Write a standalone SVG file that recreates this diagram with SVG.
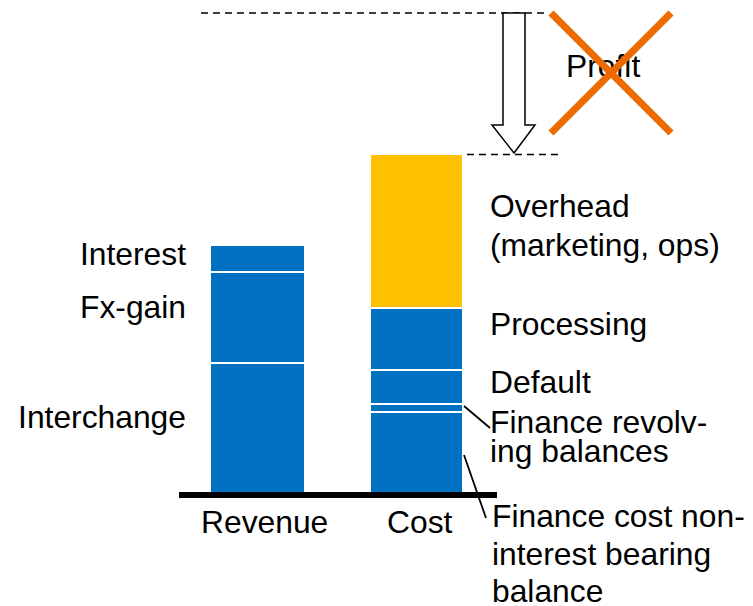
<svg xmlns="http://www.w3.org/2000/svg" width="753" height="606" viewBox="0 0 753 606">
<style>
text{font-family:"Liberation Sans",Arial,sans-serif;font-size:31.8px;fill:#000}
.blue{fill:#0070C0}
.yel{fill:#FFC000}
.dash{stroke:#000;stroke-width:1.5;stroke-dasharray:7 5;fill:none}
.lead{stroke:#000;stroke-width:1.8;fill:none}
</style>
<rect width="753" height="606" fill="#fff"/>
<g id="revenue-bar">
<rect class="blue" x="211" y="246" width="93" height="25"/>
<rect class="blue" x="211" y="273" width="93" height="89"/>
<rect class="blue" x="211" y="364" width="93" height="128"/>
</g>
<g id="cost-bar">
<rect class="yel" x="371" y="155" width="91" height="152"/>
<rect class="blue" x="371" y="309" width="91" height="60"/>
<rect class="blue" x="371" y="371" width="91" height="32"/>
<rect class="blue" x="371" y="405" width="91" height="6"/>
<rect class="blue" x="371" y="413" width="91" height="79"/>
</g>
<g id="axis">
<line x1="179" y1="495" x2="497" y2="495" stroke="#000" stroke-width="6"/>
</g>
<g id="connectors">
<line class="dash" x1="201" y1="13" x2="549" y2="13"/>
<line class="dash" x1="467" y1="154.5" x2="560" y2="154.5"/>
<line class="lead" x1="464" y1="406" x2="490" y2="428"/>
<line class="lead" x1="464" y1="455" x2="486" y2="518"/>
</g>
<g id="arrow">
<polygon points="503,13 525,13 525,125 535,125 514,153 492,125 503,125" fill="#fff" stroke="#000" stroke-width="1.5"/>
</g>
<g id="profit">
<text x="566" y="77">Profit</text>
<line x1="551" y1="13" x2="671" y2="133" stroke="#EC6A00" stroke-width="7"/>
<line x1="671" y1="13" x2="551" y2="133" stroke="#EC6A00" stroke-width="7"/>
</g>
<g id="revenue-labels">
<text x="186" y="265" text-anchor="end">Interest</text>
<text x="186" y="318" text-anchor="end">Fx-gain</text>
<text x="186" y="428" text-anchor="end">Interchange</text>
<text x="201" y="533">Revenue</text>
<text x="387" y="533">Cost</text>
</g>
<g id="cost-labels">
<text x="490" y="217">Overhead</text>
<text x="490" y="256">(marketing, ops)</text>
<text x="490" y="335">Processing</text>
<text x="490" y="393">Default</text>
<text x="490" y="433">Finance revolv-</text>
<text x="490" y="462">ing balances</text>
<text x="492" y="527">Finance cost non-</text>
<text x="492" y="565">interest bearing</text>
<text x="492" y="602">balance</text>
</g>
</svg>
